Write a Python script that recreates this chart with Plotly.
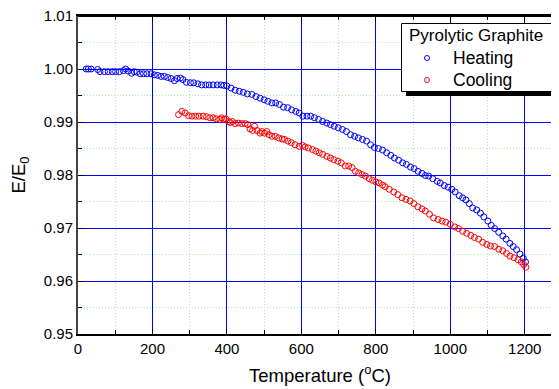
import plotly.graph_objects as go

# ---- data ----
heat_T = [22, 28, 35, 53, 59, 71, 81, 92, 101, 111, 122, 128, 135, 144, 151, 158, 167, 176, 185, 196,
          205, 214, 223, 232, 241, 250, 259, 266, 275, 282, 291, 302, 311, 322, 332, 343, 352, 363, 374, 384,
          392, 400, 411, 422, 433, 444, 455, 467, 478, 489, 500, 510, 521, 531, 541, 552, 563, 574, 585, 594,
          604, 615, 625, 635, 646, 657, 668, 678, 688, 699, 710, 721, 732, 743, 753, 764, 775, 786, 796,
          807, 818, 829, 840, 850, 861, 872, 882, 893, 903, 913, 924, 933, 942, 953, 965, 973, 984, 994,
          1004, 1013, 1024, 1033, 1042, 1051, 1060, 1071, 1081, 1090, 1101, 1110, 1119, 1130, 1141, 1150,
          1160, 1169, 1178, 1187, 1196, 1202]
heat_E = [1.0000, 1.0000, 1.0000, 0.9999, 0.9995, 0.9995, 0.9995, 0.9995, 0.9995, 0.9995, 0.9997, 1.0000,
          0.9996, 0.9992, 0.9995, 0.9994, 0.9991, 0.9991, 0.9991, 0.9991, 0.9989, 0.9988, 0.9986, 0.9986,
          0.9984, 0.9982, 0.9978, 0.9982, 0.9983, 0.9980, 0.9975, 0.9974, 0.9974, 0.9972, 0.9970, 0.9970,
          0.9970, 0.9970, 0.9970, 0.9970, 0.9969, 0.9968, 0.9964, 0.9960, 0.9958, 0.9956, 0.9953, 0.9952,
          0.9948, 0.9945, 0.9942, 0.9939, 0.9936, 0.9936, 0.9933, 0.9928, 0.9927, 0.9923, 0.9920, 0.9917,
          0.9911, 0.9911, 0.9911, 0.9908, 0.9905, 0.9901, 0.9898, 0.9895, 0.9892, 0.9889, 0.9886, 0.9882,
          0.9876, 0.9873, 0.9870, 0.9867, 0.9864, 0.9857, 0.9852,
          0.9850, 0.9847, 0.9842, 0.9837, 0.9832, 0.9828, 0.9823, 0.9820, 0.9815, 0.9812, 0.9807, 0.9803,
          0.9799, 0.9798, 0.9793, 0.9788, 0.9785, 0.9780, 0.9777, 0.9773, 0.9768, 0.9761, 0.9757, 0.9753,
          0.9746, 0.9738, 0.9734, 0.9728, 0.9721, 0.9713, 0.9705, 0.9699, 0.9692, 0.9685, 0.9679, 0.9671,
          0.9665, 0.9659, 0.9651, 0.9643, 0.9636]

cool_T = [270, 279, 288, 297, 306, 316, 325, 336, 345, 354, 363, 372, 381, 386, 392, 397, 404, 409, 415,
          422, 431, 440, 449, 456, 462, 469, 474, 481, 489, 494, 501, 507, 513, 521, 530, 539, 548, 555,
          564, 573, 583, 594, 603, 610, 619, 630, 639, 648, 657, 669, 678, 687, 698, 707, 718, 727, 736,
          745, 754, 763, 772, 782, 791, 800, 809, 818, 825, 836, 848, 859, 870, 881, 892, 902, 913, 924,
          933, 944, 955, 967, 978, 988, 1000, 1012, 1022, 1033, 1044, 1055, 1065, 1076, 1087, 1098, 1108,
          1119, 1130, 1141, 1151, 1160, 1171, 1182, 1191, 1197, 1203]
cool_E = [0.9914, 0.9920, 0.9917, 0.9912, 0.9911, 0.9911, 0.9911, 0.9911, 0.9910, 0.9908, 0.9908, 0.9906,
          0.9905, 0.9908, 0.9905, 0.9906, 0.9901, 0.9899, 0.9901, 0.9897, 0.9898, 0.9897, 0.9897, 0.9895,
          0.9887, 0.9884, 0.9892, 0.9884, 0.9879, 0.9882, 0.9879, 0.9882, 0.9876, 0.9873, 0.9873, 0.9870,
          0.9868, 0.9867, 0.9864, 0.9861, 0.9857, 0.9854, 0.9856, 0.9853, 0.9851, 0.9848, 0.9845, 0.9842,
          0.9839, 0.9835, 0.9832, 0.9829, 0.9826, 0.9823, 0.9817, 0.9817, 0.9814, 0.9807, 0.9804, 0.9801,
          0.9798, 0.9793, 0.9790, 0.9787, 0.9785, 0.9781, 0.9778, 0.9773, 0.9768, 0.9763, 0.9757, 0.9754,
          0.9751, 0.9746, 0.9740, 0.9736, 0.9732, 0.9726, 0.9719, 0.9716, 0.9713, 0.9711, 0.9707, 0.9702,
          0.9699, 0.9694, 0.9690, 0.9686, 0.9682, 0.9679, 0.9673, 0.9669, 0.9666, 0.9665, 0.9660, 0.9657,
          0.9652, 0.9647, 0.9644, 0.9640, 0.9636, 0.9631, 0.9626]

legend_title = "Pyrolytic Graphite"
series_names = ["Heating", "Cooling"]
series_colors = ["#0000ff", "#ff0000"]
x_title = "Temperature (<sup>o</sup>C)"
y_title = "E/E<sub>0</sub>"

# ---- figure ----
# the page body has an 8px default margin, so figure coords = page coords - 8
OFF = 8
W, H = 559, 389
ML, MR, MT, MB = 78 - OFF, 5, 16 - OFF, 63
FONT = "Liberation Sans, Arial, sans-serif"

fig = go.Figure()
for xs, ys, name, col in [(heat_T, heat_E, series_names[0], series_colors[0]),
                          (cool_T, cool_E, series_names[1], series_colors[1])]:
    fig.add_trace(go.Scatter(x=xs, y=ys, mode="markers", name=name, showlegend=False,
                             marker=dict(symbol="circle-open", size=6, color=col,
                                         line=dict(width=1, color=col))))
# empty trace so that the top (mirror) axis gets drawn with its ticks
fig.add_trace(go.Scatter(x=[None], y=[None], xaxis="x2", mode="markers",
                         showlegend=False, hoverinfo="skip"))

pw = W - ML - MR
ph = H - MT - MB


def px2paper_x(page_px):
    return (page_px - OFF - ML) / pw


def px2paper_y(page_py):
    return (H - MB - (page_py - OFF)) / ph


# ---- legend box drawn by hand (shadow, frame, title, entries) ----
shapes = [
    dict(type="line", xref="paper", yref="paper", x0=0, x1=1, y0=1, y1=1,
         line=dict(width=2, color="black"), layer="above"),
    dict(type="rect", xref="paper", yref="paper",
         x0=px2paper_x(406), x1=px2paper_x(562), y0=px2paper_y(96), y1=px2paper_y(28),
         fillcolor="black", line=dict(width=0), layer="above"),
    dict(type="rect", xref="paper", yref="paper",
         x0=px2paper_x(401.5), x1=px2paper_x(554.5), y0=px2paper_y(91.5), y1=px2paper_y(23.5),
         fillcolor="white", line=dict(width=1, color="black"), layer="above"),
]
annotations = [
    dict(text=legend_title, xref="paper", yref="paper", x=px2paper_x(407), y=px2paper_y(35.5),
         xanchor="left", yanchor="middle", showarrow=False,
         font=dict(family=FONT, size=17, color="black")),
]
for i, (name, col) in enumerate(zip(series_names, series_colors)):
    cy = 58 + 22 * i
    shapes.append(dict(type="circle", xref="paper", yref="paper",
                       x0=px2paper_x(424.5), x1=px2paper_x(429.5),
                       y0=px2paper_y(cy + 2.5), y1=px2paper_y(cy - 2.5),
                       line=dict(width=1, color=col), fillcolor="rgba(0,0,0,0)", layer="above"))
    annotations.append(dict(text=name, xref="paper", yref="paper", x=px2paper_x(451), y=px2paper_y(cy),
                            xanchor="left", yanchor="middle", showarrow=False,
                            font=dict(family=FONT, size=17.5, color="black")))

fig.update_layout(
    width=W, height=H,
    margin=dict(l=ML, r=MR, t=MT, b=MB, pad=0, autoexpand=False),
    paper_bgcolor="white", plot_bgcolor="white",
    font=dict(family=FONT, color="black", size=15),
    showlegend=False,
    shapes=shapes,
    annotations=annotations,
    xaxis2=dict(overlaying="x", side="top", matches="x", anchor="y",
                showticklabels=False, showgrid=False, zeroline=False,
                ticks="inside", ticklen=5, tickwidth=1, tickcolor="black", dtick=200,
                showline=True, linecolor="black", linewidth=2, automargin=False,
                minor=dict(dtick=100, ticks="inside", ticklen=4, tickcolor="black", showgrid=False)),
)

fig.update_xaxes(
    selector=dict(overlaying=None),
    automargin=False, ticklabeloverflow="allow",
    range=[0, 1300], dtick=200,
    ticks="inside", ticklen=5, tickwidth=1, tickcolor="black",
    showline=True, linecolor="black", linewidth=2, mirror=False,
    showgrid=True, gridcolor="#0000ff", gridwidth=1, zeroline=False,
    tickfont=dict(family=FONT, size=15, color="black"),
    minor=dict(dtick=100, ticks="inside", ticklen=4, tickcolor="black",
               showgrid=True, gridcolor="#a8eca8", griddash="1px,2px", gridwidth=1),
    title=dict(text=x_title, font=dict(family=FONT, size=18.5, color="black"), standoff=13),
)
fig.update_yaxes(
    automargin=False, ticklabeloverflow="allow",
    range=[0.95, 1.01], dtick=0.01, tickformat=".2f",
    ticks="inside", ticklen=5, tickwidth=1, tickcolor="black",
    showline=True, linecolor="#444444", linewidth=2, mirror=False,
    showgrid=True, gridcolor="#0000ff", gridwidth=1, zeroline=False,
    tickfont=dict(family=FONT, size=15, color="black"),
    minor=dict(dtick=0.005, ticks="inside", ticklen=4, tickcolor="black",
               showgrid=True, gridcolor="#a8eca8", griddash="1px,2px", gridwidth=1),
    title=dict(text=y_title, font=dict(family=FONT, size=18.5, color="black"), standoff=14),
)

fig.write_html("out.html")
